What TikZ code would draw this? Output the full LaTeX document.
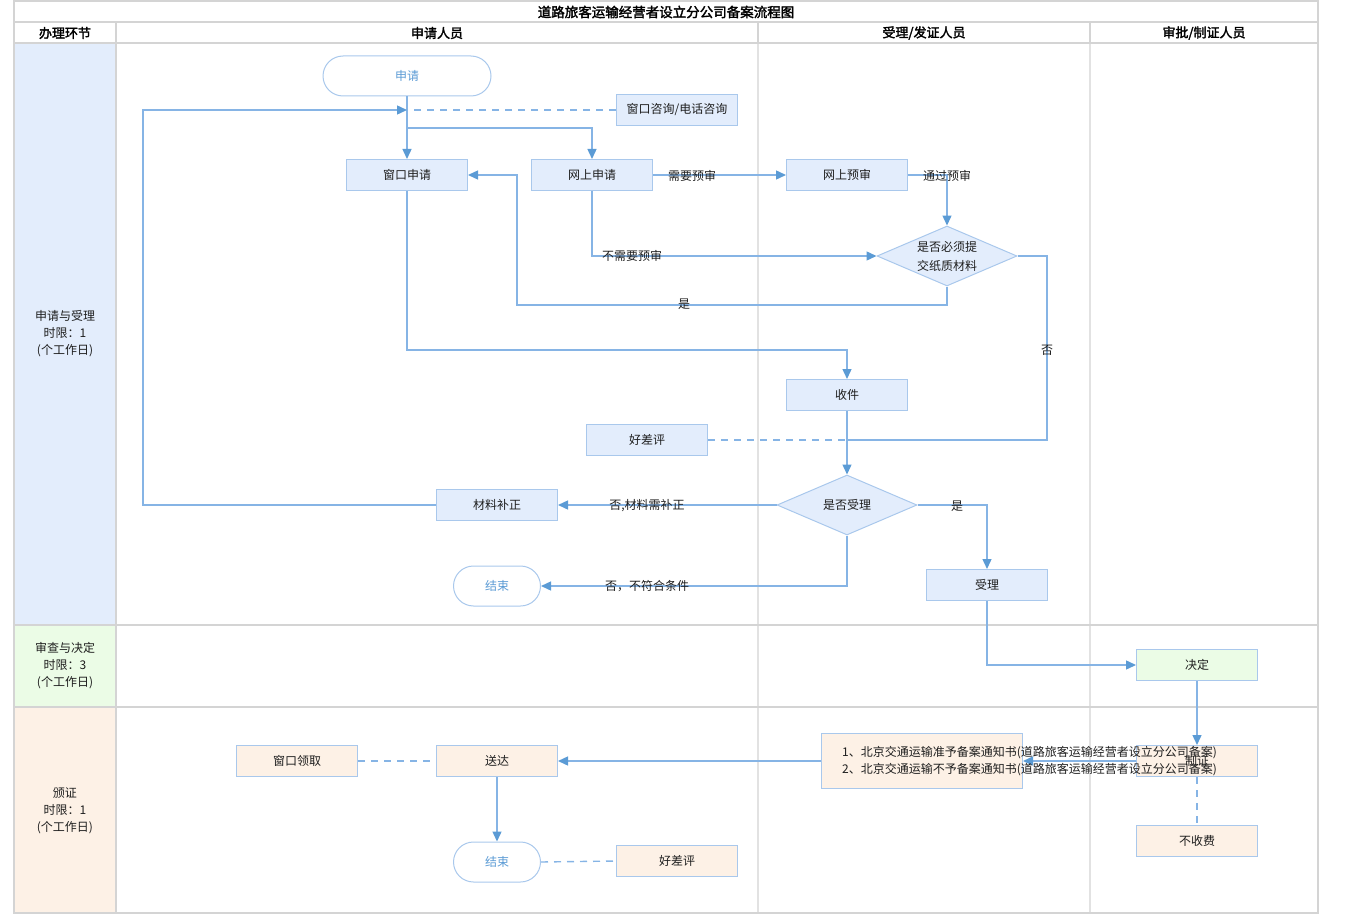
\documentclass[tikz,border=0pt]{standalone}
\usepackage{fontspec}
\setmainfont{Noto Sans CJK SC}[AutoFakeBold=2.2]
\usetikzlibrary{shapes.geometric,arrows.meta}
\definecolor{gridc}{HTML}{D4D4D4}
\definecolor{gridl}{HTML}{E2E2E2}
\definecolor{bfill}{HTML}{E3EDFC}
\definecolor{gfill}{HTML}{EBFCE6}
\definecolor{ofill}{HTML}{FDF1E6}
\definecolor{bline}{HTML}{A9C8EC}
\definecolor{cline}{HTML}{86B4E5}
\definecolor{ahead}{HTML}{5B9BD5}
\definecolor{txt}{HTML}{1E1E1E}
\definecolor{stxt}{HTML}{5B9BD5}
\begin{document}
\begin{tikzpicture}[x=1pt,y=-1pt,
 every node/.style={font=\fontsize{12}{14}\selectfont, text=txt},
 box/.style={draw=bline, line width=1pt, fill=bfill, minimum width=121pt, minimum height=31pt, inner sep=0pt},
 obox/.style={box, fill=ofill},
 gbox/.style={box, fill=gfill},
 term/.style={draw=bline, line width=1pt, fill=white, rounded corners=20pt, minimum width=87pt, minimum height=40pt, text=stxt, inner sep=0pt},
 dec/.style={diamond, aspect=2.33, draw=bline, line width=1pt, fill=bfill, minimum width=140pt, minimum height=60pt, inner sep=0pt, align=center},
 flow/.style={draw=cline, line width=1.4pt, -{Triangle[length=10pt,width=9pt,color=ahead]}},
 conn/.style={draw=cline, line width=1.4pt},
 dotline/.style={draw=cline, line width=1.4pt, dash pattern=on 7pt off 6pt},
 lbl/.style={inner sep=0pt},
 hdr/.style={font=\fontsize{13}{15}\selectfont\bfseries, text=black},
 lane/.style={align=center, font=\fontsize{12}{17}\selectfont, text=txt}
]
\useasboundingbox (0,0) rectangle (1350,915);
% lane backgrounds
\fill[bfill] (15,43) rectangle (116,625);
\fill[gfill] (15,625) rectangle (116,707);
\fill[ofill] (15,707) rectangle (116,913);
% grid
\draw[gridl, line width=1.5pt] (758,43) -- (758,913) (1090,43) -- (1090,913);
\draw[gridc, line width=2pt] (14,1) rectangle (1318,913);
\draw[gridc, line width=2pt] (14,22) -- (1318,22) (14,43) -- (1318,43)
  (14,625) -- (1318,625) (14,707) -- (1318,707)
  (116,22) -- (116,913) (758,22) -- (758,43) (1090,22) -- (1090,43);
% titles
\node[hdr, font=\fontsize{13.5}{15}\selectfont\bfseries] (title) at (666,12) {道路旅客运输经营者设立分公司备案流程图};
\node[hdr] (h1) at (65,33) {办理环节};
\node[hdr] (h2) at (437,33) {申请人员};
\node[hdr] (h3) at (924,33) {受理/发证人员};
\node[hdr] (h4) at (1204,33) {审批/制证人员};
\node[lane] (l1) at (65,334) {申请与受理\\时限：1\\(个工作日)};
\node[lane] (l2) at (65,666) {审查与决定\\时限：3\\(个工作日)};
\node[lane] (l3) at (65,811) {颁证\\时限：1\\(个工作日)};
% nodes
\node[term, minimum width=168pt] (sq) at (407,76) {申请};
\node[box] (zx) at (677,110) {窗口咨询/电话咨询};
\node[box] (ck) at (407,175) {窗口申请};
\node[box] (ws) at (592,175) {网上申请};
\node[box] (wy) at (847,175) {网上预审};
\node[dec, font=\fontsize{12}{19}\selectfont] (d1) at (947,256) {是否必须提\\交纸质材料};
\node[box] (sj) at (847,395) {收件};
\node[box] (hp1) at (647,440) {好差评};
\node[dec] (d2) at (847,505) {是否受理};
\node[box] (bz) at (497,505) {材料补正};
\node[term] (js1) at (497,586) {结束};
\node[box] (sl) at (987,585) {受理};
\node[gbox] (jd) at (1197,665) {决定};
\node[obox] (zz) at (1197,761) {制证};
\node[obox, minimum width=201pt, minimum height=55pt] (tz) at (922,761) {};
\node[obox] (sd) at (497,761) {送达};
\node[obox] (lq) at (297,761) {窗口领取};
\node[term] (js2) at (497,862) {结束};
\node[obox] (hp2) at (677,861) {好差评};
\node[obox] (bsf) at (1197,841) {不收费};
% helper coordinates
\coordinate (m1) at (407,110);
\coordinate (j1) at (407,128);
\coordinate (m2) at (847,440);
% connectors
\draw[flow] (sq.south) -- (ck.north);
\draw[flow] (j1) -| (ws.north);
\draw[flow] (bz.west) -- (143,505) -- (143,110) -- (m1);
\draw[dotline] (zx.west) -- (m1);
\draw[flow] (ws.east) -- (wy.west);
\draw[flow] (wy.east) -| (d1.north);
\draw[flow] (ws.south) |- (d1.west);
\draw[flow] (d1.south) -- (947,305) -- (517,305) |- (ck.east);
\draw[conn] (d1.east) -| (1047,440) -- (m2);
\draw[flow] (ck.south) -- (407,350) -| (sj.north);
\draw[dotline] (hp1.east) -- (m2);
\draw[flow] (sj.south) -- (d2.north);
\draw[flow] (d2.west) -- (bz.east);
\draw[flow] (d2.south) |- (js1.east);
\draw[flow] (d2.east) -| (sl.north);
\draw[flow] (sl.south) |- (jd.west);
\draw[flow] (jd.south) -- (zz.north);
\draw[flow] (zz.west) -- (tz.east);
\draw[flow] (tz.west) -- (sd.east);
\draw[dotline] (lq.east) -- (sd.west);
\draw[flow] (sd.south) -- (js2.north);
\draw[dotline] (js2.east) -- (hp2.west);
\draw[dotline] (zz.south) -- (bsf.north);
% labels
\node[lbl] (t1) at (692,176) {需要预审};
\node[lbl] (t2) at (947,176) {通过预审};
\node[lbl] (t3) at (632,256) {不需要预审};
\node[lbl] (t4) at (684,304) {是};
\node[lbl] (t5) at (1047,350) {否};
\node[lbl] (t6) at (647,506) {否,材料需补正};
\node[lbl] (t7) at (957,506) {是};
\node[lbl] (t8) at (647,586) {否，不符合条件};
\node[lbl, anchor=west, align=left, font=\fontsize{12}{17}\selectfont] (tzt) at (842,761) {1、北京交通运输准予备案通知书(道路旅客运输经营者设立分公司备案)\\2、北京交通运输不予备案通知书(道路旅客运输经营者设立分公司备案)};
\end{tikzpicture}
\end{document}
